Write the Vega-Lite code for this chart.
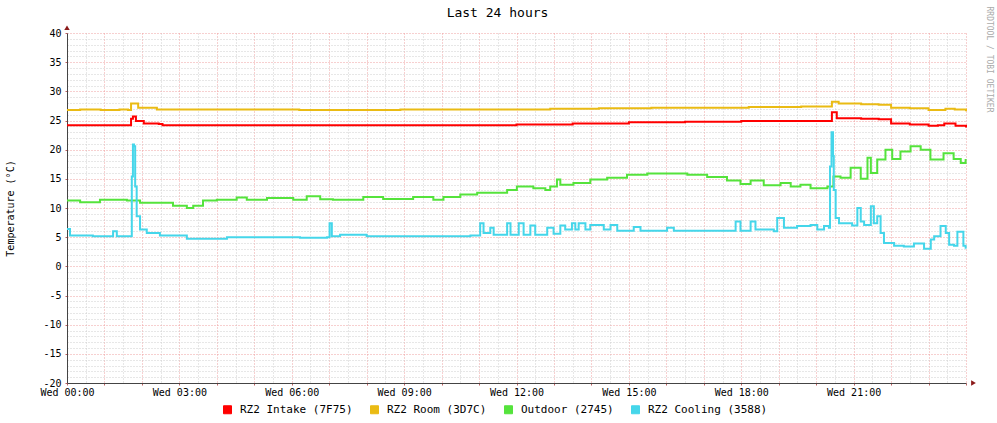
{
  "$schema": "https://vega.github.io/schema/vega-lite/v6.json",
  "width": 899,
  "height": 350,
  "autosize": {"type": "none"},
  "padding": {"left": 67, "top": 33, "right": 31, "bottom": 40},
  "background": "#ffffff",
  "config": {
    "view": {"stroke": null},
    "font": "DejaVu Sans Mono"
  },
  "title": {
    "text": "Last 24 hours",
    "font": "DejaVu Sans Mono",
    "fontSize": 13,
    "fontWeight": "normal",
    "color": "#000000",
    "anchor": "middle",
    "dx": -19,
    "offset": -14
  },
  "datasets": {
    "temps": [
      {"series": "RZ2 Intake (7F75)", "hour": 0, "temp": 24.2},
      {"series": "RZ2 Intake (7F75)", "hour": 0.9, "temp": 24.2},
      {"series": "RZ2 Intake (7F75)", "hour": 1.63, "temp": 24.2},
      {"series": "RZ2 Intake (7F75)", "hour": 1.71, "temp": 25.3},
      {"series": "RZ2 Intake (7F75)", "hour": 1.76, "temp": 25.7},
      {"series": "RZ2 Intake (7F75)", "hour": 1.84, "temp": 24.9},
      {"series": "RZ2 Intake (7F75)", "hour": 2.05, "temp": 24.5},
      {"series": "RZ2 Intake (7F75)", "hour": 2.45, "temp": 24.4},
      {"series": "RZ2 Intake (7F75)", "hour": 2.55, "temp": 24.2},
      {"series": "RZ2 Intake (7F75)", "hour": 5, "temp": 24.2},
      {"series": "RZ2 Intake (7F75)", "hour": 8, "temp": 24.2},
      {"series": "RZ2 Intake (7F75)", "hour": 11, "temp": 24.2},
      {"series": "RZ2 Intake (7F75)", "hour": 12, "temp": 24.3},
      {"series": "RZ2 Intake (7F75)", "hour": 13.5, "temp": 24.5},
      {"series": "RZ2 Intake (7F75)", "hour": 15, "temp": 24.7},
      {"series": "RZ2 Intake (7F75)", "hour": 16.5, "temp": 24.8},
      {"series": "RZ2 Intake (7F75)", "hour": 18, "temp": 24.9},
      {"series": "RZ2 Intake (7F75)", "hour": 19.5, "temp": 24.9},
      {"series": "RZ2 Intake (7F75)", "hour": 20.33, "temp": 24.9},
      {"series": "RZ2 Intake (7F75)", "hour": 20.42, "temp": 26.4},
      {"series": "RZ2 Intake (7F75)", "hour": 20.55, "temp": 25.4},
      {"series": "RZ2 Intake (7F75)", "hour": 21.2, "temp": 25.3},
      {"series": "RZ2 Intake (7F75)", "hour": 21.67, "temp": 25.2},
      {"series": "RZ2 Intake (7F75)", "hour": 22.0, "temp": 24.5},
      {"series": "RZ2 Intake (7F75)", "hour": 22.5, "temp": 24.3},
      {"series": "RZ2 Intake (7F75)", "hour": 23.0, "temp": 24.1},
      {"series": "RZ2 Intake (7F75)", "hour": 23.25, "temp": 24.2},
      {"series": "RZ2 Intake (7F75)", "hour": 23.42, "temp": 24.5},
      {"series": "RZ2 Intake (7F75)", "hour": 23.72, "temp": 24.1},
      {"series": "RZ2 Intake (7F75)", "hour": 24.0, "temp": 23.8},

      {"series": "RZ2 Room (3D7C)", "hour": 0, "temp": 26.8},
      {"series": "RZ2 Room (3D7C)", "hour": 0.35, "temp": 26.9},
      {"series": "RZ2 Room (3D7C)", "hour": 0.9, "temp": 26.8},
      {"series": "RZ2 Room (3D7C)", "hour": 1.4, "temp": 26.9},
      {"series": "RZ2 Room (3D7C)", "hour": 1.63, "temp": 26.8},
      {"series": "RZ2 Room (3D7C)", "hour": 1.71, "temp": 27.9},
      {"series": "RZ2 Room (3D7C)", "hour": 1.8, "temp": 27.9},
      {"series": "RZ2 Room (3D7C)", "hour": 1.9, "temp": 27.2},
      {"series": "RZ2 Room (3D7C)", "hour": 2.3, "temp": 27.2},
      {"series": "RZ2 Room (3D7C)", "hour": 2.4, "temp": 26.9},
      {"series": "RZ2 Room (3D7C)", "hour": 3.5, "temp": 26.9},
      {"series": "RZ2 Room (3D7C)", "hour": 4.9, "temp": 26.9},
      {"series": "RZ2 Room (3D7C)", "hour": 6.2, "temp": 26.8},
      {"series": "RZ2 Room (3D7C)", "hour": 8.9, "temp": 26.9},
      {"series": "RZ2 Room (3D7C)", "hour": 11.6, "temp": 26.9},
      {"series": "RZ2 Room (3D7C)", "hour": 12.9, "temp": 27.0},
      {"series": "RZ2 Room (3D7C)", "hour": 14.2, "temp": 27.1},
      {"series": "RZ2 Room (3D7C)", "hour": 15.6, "temp": 27.2},
      {"series": "RZ2 Room (3D7C)", "hour": 16.9, "temp": 27.2},
      {"series": "RZ2 Room (3D7C)", "hour": 18.2, "temp": 27.3},
      {"series": "RZ2 Room (3D7C)", "hour": 19.6, "temp": 27.4},
      {"series": "RZ2 Room (3D7C)", "hour": 20.33, "temp": 27.4},
      {"series": "RZ2 Room (3D7C)", "hour": 20.42, "temp": 28.2},
      {"series": "RZ2 Room (3D7C)", "hour": 20.6, "temp": 27.9},
      {"series": "RZ2 Room (3D7C)", "hour": 21.2, "temp": 27.8},
      {"series": "RZ2 Room (3D7C)", "hour": 21.67, "temp": 27.7},
      {"series": "RZ2 Room (3D7C)", "hour": 22.0, "temp": 27.2},
      {"series": "RZ2 Room (3D7C)", "hour": 22.5, "temp": 27.1},
      {"series": "RZ2 Room (3D7C)", "hour": 23.0, "temp": 26.8},
      {"series": "RZ2 Room (3D7C)", "hour": 23.45, "temp": 27.0},
      {"series": "RZ2 Room (3D7C)", "hour": 23.7, "temp": 26.9},
      {"series": "RZ2 Room (3D7C)", "hour": 24.0, "temp": 26.6},

      {"series": "Outdoor (2745)", "hour": 0, "temp": 11.3},
      {"series": "Outdoor (2745)", "hour": 0.35, "temp": 11.0},
      {"series": "Outdoor (2745)", "hour": 0.88, "temp": 11.4},
      {"series": "Outdoor (2745)", "hour": 1.15, "temp": 11.4},
      {"series": "Outdoor (2745)", "hour": 1.6, "temp": 11.3},
      {"series": "Outdoor (2745)", "hour": 1.95, "temp": 10.9},
      {"series": "Outdoor (2745)", "hour": 2.48, "temp": 10.9},
      {"series": "Outdoor (2745)", "hour": 2.83, "temp": 10.4},
      {"series": "Outdoor (2745)", "hour": 3.2, "temp": 10.0},
      {"series": "Outdoor (2745)", "hour": 3.37, "temp": 10.4},
      {"series": "Outdoor (2745)", "hour": 3.63, "temp": 11.3},
      {"series": "Outdoor (2745)", "hour": 4.0, "temp": 11.4},
      {"series": "Outdoor (2745)", "hour": 4.53, "temp": 11.8},
      {"series": "Outdoor (2745)", "hour": 4.8, "temp": 11.4},
      {"series": "Outdoor (2745)", "hour": 5.34, "temp": 11.7},
      {"series": "Outdoor (2745)", "hour": 6.04, "temp": 11.4},
      {"series": "Outdoor (2745)", "hour": 6.4, "temp": 12.0},
      {"series": "Outdoor (2745)", "hour": 6.76, "temp": 11.5},
      {"series": "Outdoor (2745)", "hour": 7.1, "temp": 11.4},
      {"series": "Outdoor (2745)", "hour": 7.91, "temp": 11.9},
      {"series": "Outdoor (2745)", "hour": 8.44, "temp": 11.55},
      {"series": "Outdoor (2745)", "hour": 9.24, "temp": 11.9},
      {"series": "Outdoor (2745)", "hour": 9.78, "temp": 11.4},
      {"series": "Outdoor (2745)", "hour": 10.05, "temp": 11.9},
      {"series": "Outdoor (2745)", "hour": 10.5, "temp": 12.3},
      {"series": "Outdoor (2745)", "hour": 10.95, "temp": 12.6},
      {"series": "Outdoor (2745)", "hour": 11.57, "temp": 12.6},
      {"series": "Outdoor (2745)", "hour": 11.75, "temp": 13.1},
      {"series": "Outdoor (2745)", "hour": 12.01, "temp": 13.7},
      {"series": "Outdoor (2745)", "hour": 12.45, "temp": 13.4},
      {"series": "Outdoor (2745)", "hour": 12.77, "temp": 13.1},
      {"series": "Outdoor (2745)", "hour": 12.9, "temp": 13.7},
      {"series": "Outdoor (2745)", "hour": 13.08, "temp": 14.9},
      {"series": "Outdoor (2745)", "hour": 13.17, "temp": 14.0},
      {"series": "Outdoor (2745)", "hour": 13.52, "temp": 14.3},
      {"series": "Outdoor (2745)", "hour": 13.97, "temp": 14.9},
      {"series": "Outdoor (2745)", "hour": 14.42, "temp": 15.2},
      {"series": "Outdoor (2745)", "hour": 14.95, "temp": 15.7},
      {"series": "Outdoor (2745)", "hour": 15.49, "temp": 15.9},
      {"series": "Outdoor (2745)", "hour": 16.02, "temp": 15.9},
      {"series": "Outdoor (2745)", "hour": 16.56, "temp": 15.7},
      {"series": "Outdoor (2745)", "hour": 17.09, "temp": 15.3},
      {"series": "Outdoor (2745)", "hour": 17.62, "temp": 14.7},
      {"series": "Outdoor (2745)", "hour": 17.98, "temp": 14.1},
      {"series": "Outdoor (2745)", "hour": 18.25, "temp": 14.7},
      {"series": "Outdoor (2745)", "hour": 18.6, "temp": 13.9},
      {"series": "Outdoor (2745)", "hour": 19.05, "temp": 14.3},
      {"series": "Outdoor (2745)", "hour": 19.32, "temp": 13.7},
      {"series": "Outdoor (2745)", "hour": 19.58, "temp": 14.0},
      {"series": "Outdoor (2745)", "hour": 19.85, "temp": 13.4},
      {"series": "Outdoor (2745)", "hour": 20.3, "temp": 13.7},
      {"series": "Outdoor (2745)", "hour": 20.46, "temp": 15.4},
      {"series": "Outdoor (2745)", "hour": 20.65, "temp": 15.2},
      {"series": "Outdoor (2745)", "hour": 20.92, "temp": 16.9},
      {"series": "Outdoor (2745)", "hour": 21.19, "temp": 15.0},
      {"series": "Outdoor (2745)", "hour": 21.37, "temp": 18.6},
      {"series": "Outdoor (2745)", "hour": 21.46, "temp": 16.0},
      {"series": "Outdoor (2745)", "hour": 21.63, "temp": 18.3},
      {"series": "Outdoor (2745)", "hour": 21.85, "temp": 20.0},
      {"series": "Outdoor (2745)", "hour": 22.03, "temp": 18.4},
      {"series": "Outdoor (2745)", "hour": 22.25, "temp": 19.7},
      {"series": "Outdoor (2745)", "hour": 22.52, "temp": 20.6},
      {"series": "Outdoor (2745)", "hour": 22.79, "temp": 20.0},
      {"series": "Outdoor (2745)", "hour": 23.05, "temp": 18.3},
      {"series": "Outdoor (2745)", "hour": 23.4, "temp": 19.4},
      {"series": "Outdoor (2745)", "hour": 23.67, "temp": 18.4},
      {"series": "Outdoor (2745)", "hour": 23.86, "temp": 17.7},
      {"series": "Outdoor (2745)", "hour": 23.99, "temp": 18.4},

      {"series": "RZ2 Cooling (3588)", "hour": 0, "temp": 6.4},
      {"series": "RZ2 Cooling (3588)", "hour": 0.08, "temp": 5.3},
      {"series": "RZ2 Cooling (3588)", "hour": 0.69, "temp": 5.15},
      {"series": "RZ2 Cooling (3588)", "hour": 1.15, "temp": 5.15},
      {"series": "RZ2 Cooling (3588)", "hour": 1.23, "temp": 6.0},
      {"series": "RZ2 Cooling (3588)", "hour": 1.33, "temp": 5.15},
      {"series": "RZ2 Cooling (3588)", "hour": 1.64, "temp": 5.15},
      {"series": "RZ2 Cooling (3588)", "hour": 1.73, "temp": 15.4},
      {"series": "RZ2 Cooling (3588)", "hour": 1.76, "temp": 20.9},
      {"series": "RZ2 Cooling (3588)", "hour": 1.79, "temp": 20.6},
      {"series": "RZ2 Cooling (3588)", "hour": 1.82, "temp": 13.7},
      {"series": "RZ2 Cooling (3588)", "hour": 1.86, "temp": 8.6},
      {"series": "RZ2 Cooling (3588)", "hour": 1.95, "temp": 6.3},
      {"series": "RZ2 Cooling (3588)", "hour": 2.13, "temp": 5.7},
      {"series": "RZ2 Cooling (3588)", "hour": 2.48, "temp": 5.3},
      {"series": "RZ2 Cooling (3588)", "hour": 3.2, "temp": 4.75},
      {"series": "RZ2 Cooling (3588)", "hour": 4.27, "temp": 5.0},
      {"series": "RZ2 Cooling (3588)", "hour": 5.16, "temp": 5.0},
      {"series": "RZ2 Cooling (3588)", "hour": 6.22, "temp": 4.9},
      {"series": "RZ2 Cooling (3588)", "hour": 6.94, "temp": 5.0},
      {"series": "RZ2 Cooling (3588)", "hour": 7.01, "temp": 7.4},
      {"series": "RZ2 Cooling (3588)", "hour": 7.07, "temp": 5.15},
      {"series": "RZ2 Cooling (3588)", "hour": 7.29, "temp": 5.4},
      {"series": "RZ2 Cooling (3588)", "hour": 8.0, "temp": 5.15},
      {"series": "RZ2 Cooling (3588)", "hour": 9.78, "temp": 5.15},
      {"series": "RZ2 Cooling (3588)", "hour": 10.77, "temp": 5.3},
      {"series": "RZ2 Cooling (3588)", "hour": 11.03, "temp": 7.4},
      {"series": "RZ2 Cooling (3588)", "hour": 11.12, "temp": 5.7},
      {"series": "RZ2 Cooling (3588)", "hour": 11.3, "temp": 6.6},
      {"series": "RZ2 Cooling (3588)", "hour": 11.39, "temp": 5.4},
      {"series": "RZ2 Cooling (3588)", "hour": 11.75, "temp": 7.4},
      {"series": "RZ2 Cooling (3588)", "hour": 11.84, "temp": 5.4},
      {"series": "RZ2 Cooling (3588)", "hour": 12.06, "temp": 7.4},
      {"series": "RZ2 Cooling (3588)", "hour": 12.19, "temp": 5.4},
      {"series": "RZ2 Cooling (3588)", "hour": 12.37, "temp": 7.0},
      {"series": "RZ2 Cooling (3588)", "hour": 12.5, "temp": 5.4},
      {"series": "RZ2 Cooling (3588)", "hour": 12.82, "temp": 6.6},
      {"series": "RZ2 Cooling (3588)", "hour": 12.99, "temp": 5.6},
      {"series": "RZ2 Cooling (3588)", "hour": 13.17, "temp": 7.0},
      {"series": "RZ2 Cooling (3588)", "hour": 13.3, "temp": 6.3},
      {"series": "RZ2 Cooling (3588)", "hour": 13.48, "temp": 7.4},
      {"series": "RZ2 Cooling (3588)", "hour": 13.57, "temp": 6.3},
      {"series": "RZ2 Cooling (3588)", "hour": 13.66, "temp": 7.4},
      {"series": "RZ2 Cooling (3588)", "hour": 13.84, "temp": 6.3},
      {"series": "RZ2 Cooling (3588)", "hour": 13.97, "temp": 7.1},
      {"series": "RZ2 Cooling (3588)", "hour": 14.33, "temp": 6.3},
      {"series": "RZ2 Cooling (3588)", "hour": 14.51, "temp": 7.1},
      {"series": "RZ2 Cooling (3588)", "hour": 14.69, "temp": 6.1},
      {"series": "RZ2 Cooling (3588)", "hour": 15.13, "temp": 6.75},
      {"series": "RZ2 Cooling (3588)", "hour": 15.31, "temp": 6.1},
      {"series": "RZ2 Cooling (3588)", "hour": 16.02, "temp": 6.6},
      {"series": "RZ2 Cooling (3588)", "hour": 16.2, "temp": 6.1},
      {"series": "RZ2 Cooling (3588)", "hour": 17.53, "temp": 6.1},
      {"series": "RZ2 Cooling (3588)", "hour": 17.85, "temp": 7.7},
      {"series": "RZ2 Cooling (3588)", "hour": 17.98, "temp": 6.1},
      {"series": "RZ2 Cooling (3588)", "hour": 18.25, "temp": 7.7},
      {"series": "RZ2 Cooling (3588)", "hour": 18.38, "temp": 6.3},
      {"series": "RZ2 Cooling (3588)", "hour": 18.87, "temp": 6.0},
      {"series": "RZ2 Cooling (3588)", "hour": 18.96, "temp": 8.3},
      {"series": "RZ2 Cooling (3588)", "hour": 19.14, "temp": 6.6},
      {"series": "RZ2 Cooling (3588)", "hour": 19.49, "temp": 6.9},
      {"series": "RZ2 Cooling (3588)", "hour": 19.85, "temp": 7.1},
      {"series": "RZ2 Cooling (3588)", "hour": 20.03, "temp": 6.3},
      {"series": "RZ2 Cooling (3588)", "hour": 20.21, "temp": 6.9},
      {"series": "RZ2 Cooling (3588)", "hour": 20.34, "temp": 6.6},
      {"series": "RZ2 Cooling (3588)", "hour": 20.37, "temp": 17.1},
      {"series": "RZ2 Cooling (3588)", "hour": 20.41, "temp": 23.0},
      {"series": "RZ2 Cooling (3588)", "hour": 20.45, "temp": 18.9},
      {"series": "RZ2 Cooling (3588)", "hour": 20.47, "temp": 13.1},
      {"series": "RZ2 Cooling (3588)", "hour": 20.52, "temp": 8.3},
      {"series": "RZ2 Cooling (3588)", "hour": 20.61, "temp": 7.4},
      {"series": "RZ2 Cooling (3588)", "hour": 20.83, "temp": 7.4},
      {"series": "RZ2 Cooling (3588)", "hour": 20.96, "temp": 7.0},
      {"series": "RZ2 Cooling (3588)", "hour": 21.1, "temp": 10.0},
      {"series": "RZ2 Cooling (3588)", "hour": 21.19, "temp": 7.7},
      {"series": "RZ2 Cooling (3588)", "hour": 21.28, "temp": 7.1},
      {"series": "RZ2 Cooling (3588)", "hour": 21.46, "temp": 10.3},
      {"series": "RZ2 Cooling (3588)", "hour": 21.54, "temp": 7.4},
      {"series": "RZ2 Cooling (3588)", "hour": 21.63, "temp": 8.6},
      {"series": "RZ2 Cooling (3588)", "hour": 21.72, "temp": 5.7},
      {"series": "RZ2 Cooling (3588)", "hour": 21.81, "temp": 4.0},
      {"series": "RZ2 Cooling (3588)", "hour": 22.08, "temp": 3.55},
      {"series": "RZ2 Cooling (3588)", "hour": 22.34, "temp": 3.4},
      {"series": "RZ2 Cooling (3588)", "hour": 22.61, "temp": 3.9},
      {"series": "RZ2 Cooling (3588)", "hour": 22.88, "temp": 3.0},
      {"series": "RZ2 Cooling (3588)", "hour": 23.06, "temp": 4.6},
      {"series": "RZ2 Cooling (3588)", "hour": 23.15, "temp": 5.15},
      {"series": "RZ2 Cooling (3588)", "hour": 23.32, "temp": 6.9},
      {"series": "RZ2 Cooling (3588)", "hour": 23.46, "temp": 5.7},
      {"series": "RZ2 Cooling (3588)", "hour": 23.55, "temp": 3.7},
      {"series": "RZ2 Cooling (3588)", "hour": 23.68, "temp": 3.55},
      {"series": "RZ2 Cooling (3588)", "hour": 23.77, "temp": 5.95},
      {"series": "RZ2 Cooling (3588)", "hour": 23.86, "temp": 5.95},
      {"series": "RZ2 Cooling (3588)", "hour": 23.93, "temp": 3.55},
      {"series": "RZ2 Cooling (3588)", "hour": 23.99, "temp": 3.0}
    ]
  },
  "layer": [
    {
      "data": {"name": "temps"},
      "mark": {"type": "line", "strokeWidth": 2, "interpolate": "step-after"},
      "encoding": {
        "x": {
          "field": "hour",
          "type": "quantitative",
          "scale": {"domain": [0, 24], "nice": false, "zero": false},
          "axis": {
            "orient": "bottom",
            "values": [0,0.5,1,1.5,2,2.5,3,3.5,4,4.5,5,5.5,6,6.5,7,7.5,8,8.5,9,9.5,10,10.5,11,11.5,12,12.5,13,13.5,14,14.5,15,15.5,16,16.5,17,17.5,18,18.5,19,19.5,20,20.5,21,21.5,22,22.5,23,23.5,24],
            "title": null,
            "grid": true,
            "gridColor": {"condition": {"test": "datum.value % 1 === 0", "value": "#eea0a0"}, "value": "#cfcfcf"},
            "gridDash": [1, 2],
            "gridWidth": 1,
            "ticks": true,
            "tickSize": 2,
            "tickColor": {"condition": {"test": "datum.value % 1 === 0", "value": "#c06060"}, "value": "transparent"},
            "domainColor": "#444444",
            "domainWidth": 1,
            "labelExpr": "(datum.value % 3 === 0 && datum.value < 24) ? 'Wed ' + (datum.value < 10 ? '0' : '') + datum.value + ':00' : ''",
            "labelFont": "DejaVu Sans Mono",
            "labelFontSize": 10,
            "labelColor": "#000000",
            "labelPadding": 2,
            "labelFlush": false,
            "labelOverlap": false
          }
        },
        "y": {
          "field": "temp",
          "type": "quantitative",
          "scale": {"domain": [-20, 40], "nice": false, "zero": false},
          "axis": {
            "orient": "left",
            "values": [-20,-19,-18,-17,-16,-15,-14,-13,-12,-11,-10,-9,-8,-7,-6,-5,-4,-3,-2,-1,0,1,2,3,4,5,6,7,8,9,10,11,12,13,14,15,16,17,18,19,20,21,22,23,24,25,26,27,28,29,30,31,32,33,34,35,36,37,38,39,40],
            "title": "Temperature (°C)",
            "titleFont": "DejaVu Sans Mono",
            "titleFontSize": 10,
            "titleFontWeight": "normal",
            "titleColor": "#000000",
            "titlePadding": 27,
            "grid": true,
            "gridColor": {"condition": {"test": "datum.value % 5 === 0", "value": "#eea0a0"}, "value": "#cfcfcf"},
            "gridDash": [1, 2],
            "gridWidth": 1,
            "ticks": true,
            "tickSize": 2,
            "tickColor": {"condition": {"test": "datum.value % 5 === 0", "value": "#c06060"}, "value": "transparent"},
            "domainColor": "#444444",
            "domainWidth": 1,
            "labelExpr": "datum.value % 5 === 0 ? '' + datum.value : ''",
            "labelFont": "DejaVu Sans Mono",
            "labelFontSize": 10,
            "labelColor": "#000000",
            "labelPadding": 4,
            "labelFlush": false,
            "labelOverlap": false
          }
        },
        "color": {
          "field": "series",
          "type": "nominal",
          "scale": {
            "domain": ["RZ2 Intake (7F75)", "RZ2 Room (3D7C)", "Outdoor (2745)", "RZ2 Cooling (3588)"],
            "range": ["#ff0000", "#eabb14", "#55e33c", "#45d6ea"]
          },
          "legend": {
            "orient": "none",
            "legendX": 155,
            "legendY": 371,
            "direction": "horizontal",
            "title": null,
            "padding": 0,
            "symbolType": "square",
            "symbolSize": 64,
            "symbolStrokeWidth": 1,
            "labelFont": "DejaVu Sans Mono",
            "labelFontSize": 11,
            "labelColor": "#000000",
            "labelOffset": 7,
            "columnPadding": 15,
            "encode": {
              "symbols": {
                "update": {
                  "fill": {"scale": "color", "field": "value"},
                  "stroke": {"value": "#000000"},
                  "strokeWidth": {"value": 1},
                  "opacity": {"value": 1}
                }
              }
            }
          }
        }
      }
    },
    {
      "data": {"values": [{}]},
      "mark": {"type": "point", "shape": "triangle-up", "filled": true, "size": 30, "color": "#8b1a1a", "opacity": 1, "clip": false},
      "encoding": {
        "x": {"datum": 0, "type": "quantitative", "scale": {"domain": [0, 24], "nice": false, "zero": false}, "axis": null},
        "y": {
          "datum": 40.9,
          "type": "quantitative",
          "scale": {"domain": [-20, 40], "nice": false, "zero": false},
          "axis": {
            "orient": "right",
            "labels": false,
            "ticks": false,
            "domain": false,
            "grid": false,
            "title": "RRDTOOL / TOBI OETIKER",
            "titleAngle": 90,
            "titleAlign": "left",
            "titleBaseline": "middle",
            "titleX": 22,
            "titleY": -27,
            "titleFont": "DejaVu Sans Mono",
            "titleFontSize": 8,
            "titleFontWeight": "normal",
            "titleColor": "#aaaaaa"
          }
        }
      }
    },
    {
      "data": {"values": [{}]},
      "mark": {"type": "point", "shape": "triangle-right", "filled": true, "size": 30, "color": "#8b1a1a", "opacity": 1, "clip": false},
      "encoding": {
        "x": {"datum": 24.2, "type": "quantitative", "scale": {"domain": [0, 24], "nice": false, "zero": false}, "axis": null},
        "y": {"datum": -20, "type": "quantitative", "scale": {"domain": [-20, 40], "nice": false, "zero": false}, "axis": null}
      }
    }
  ],
  "resolve": {"axis": {"x": "independent", "y": "independent"}}
}
